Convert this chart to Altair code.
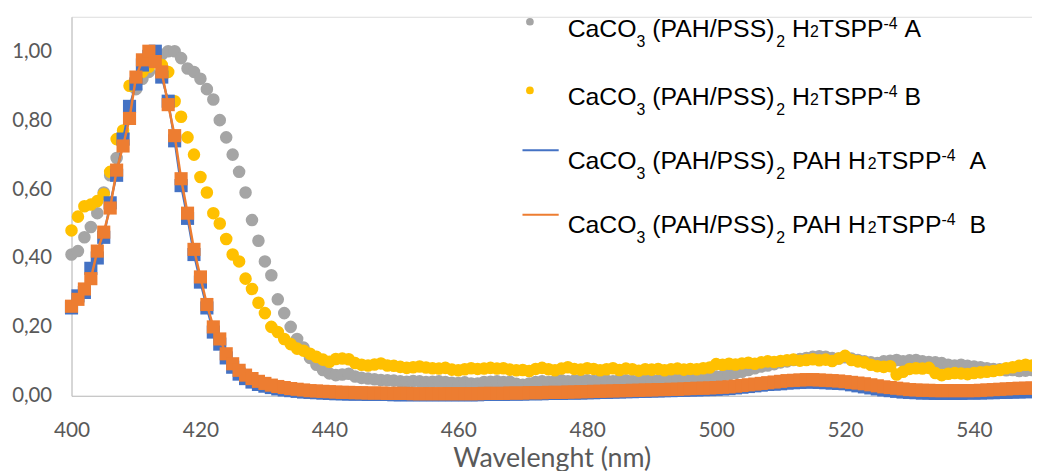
import altair as alt
import pandas as pd

# ---------------- data ----------------
wavelength = list(range(400, 550))

# CaCO3 (PAH/PSS)2 H2TSPP-4 A  (grey circles)
series_grey_A = [
    0.41, 0.42, 0.46, 0.49, 0.53, 0.59, 0.64, 0.69, 0.76, 0.83,
    0.89, 0.92, 0.94, 0.97, 0.99, 1.00, 1.00, 0.98, 0.95, 0.94,
    0.92, 0.89, 0.86, 0.80, 0.75, 0.70, 0.65, 0.59, 0.51, 0.45,
    0.39, 0.35, 0.28, 0.24, 0.20, 0.165, 0.14, 0.11, 0.09, 0.075,
    0.065, 0.06, 0.062, 0.064, 0.056, 0.052, 0.05, 0.048, 0.046, 0.045,
    0.044, 0.042, 0.041, 0.043, 0.042, 0.04, 0.041, 0.042, 0.04, 0.038,
    0.037, 0.039, 0.036, 0.036, 0.04, 0.041, 0.042, 0.04, 0.041, 0.035,
    0.032, 0.036, 0.04, 0.042, 0.04, 0.043, 0.045, 0.042, 0.044, 0.046,
    0.045, 0.043, 0.046, 0.044, 0.042, 0.046, 0.045, 0.043, 0.044, 0.047,
    0.045, 0.044, 0.046, 0.045, 0.048, 0.047, 0.05, 0.052, 0.05, 0.053,
    0.056, 0.058, 0.062, 0.066, 0.07, 0.075, 0.08, 0.085, 0.088, 0.092,
    0.097, 0.10, 0.104, 0.107, 0.11, 0.113, 0.115, 0.113, 0.11, 0.108,
    0.112, 0.108, 0.104, 0.10, 0.097, 0.095, 0.10, 0.102, 0.104, 0.10,
    0.103, 0.104, 0.10, 0.098, 0.097, 0.095, 0.09, 0.088, 0.09, 0.087,
    0.085, 0.083, 0.08, 0.078, 0.077, 0.074, 0.075, 0.072, 0.073, 0.075,
]

# CaCO3 (PAH/PSS)2 H2TSPP-4 B  (yellow circles)
series_yellow_B = [
    0.48, 0.52, 0.55, 0.555, 0.565, 0.585, 0.65, 0.745, 0.77, 0.90,
    0.92, 0.94, 0.955, 0.97, 0.96, 0.94, 0.855, 0.81, 0.75, 0.70,
    0.635, 0.59, 0.53, 0.50, 0.455, 0.41, 0.39, 0.34, 0.31, 0.27,
    0.24, 0.20, 0.185, 0.165, 0.15, 0.137, 0.131, 0.122, 0.113, 0.105,
    0.099, 0.107, 0.108, 0.106, 0.095, 0.09, 0.088, 0.091, 0.094, 0.088,
    0.087, 0.084, 0.081, 0.083, 0.085, 0.082, 0.08, 0.079, 0.081, 0.076,
    0.074, 0.077, 0.08, 0.078, 0.079, 0.081, 0.079, 0.08, 0.076, 0.074,
    0.075, 0.072, 0.078, 0.081, 0.077, 0.074, 0.079, 0.083, 0.078, 0.076,
    0.08, 0.078, 0.074, 0.077, 0.08, 0.075, 0.079, 0.077, 0.073, 0.077,
    0.076, 0.078, 0.074, 0.077, 0.079, 0.076, 0.078, 0.077, 0.08, 0.082,
    0.092, 0.09, 0.093, 0.091, 0.094, 0.096, 0.093, 0.097, 0.10, 0.098,
    0.101, 0.103, 0.105, 0.102, 0.104, 0.106, 0.103, 0.105, 0.101, 0.108,
    0.116, 0.104, 0.10, 0.097, 0.09, 0.086, 0.084, 0.086, 0.062, 0.07,
    0.078, 0.08, 0.079, 0.081, 0.066, 0.06, 0.064, 0.066, 0.065, 0.063,
    0.066, 0.068, 0.07, 0.072, 0.075, 0.08, 0.083, 0.087, 0.09, 0.088,
]

# CaCO3 (PAH/PSS)2 PAH H2TSPP-4 A  (blue line, squares)
series_blue_A = [
    0.255, 0.29, 0.30, 0.37, 0.40, 0.46, 0.56, 0.64, 0.745, 0.84,
    0.905, 0.96, 0.985, 1.00, 0.925, 0.855, 0.74, 0.61, 0.515, 0.41,
    0.33, 0.255, 0.185, 0.15, 0.11, 0.083, 0.063, 0.05, 0.04, 0.033,
    0.028, 0.024, 0.02, 0.017, 0.015, 0.013, 0.011, 0.01, 0.009, 0.008,
    0.007, 0.006, 0.006, 0.005, 0.005, 0.005, 0.004, 0.004, 0.004, 0.004,
    0.003, 0.003, 0.003, 0.003, 0.003, 0.003, 0.003, 0.003, 0.003, 0.003,
    0.003, 0.003, 0.003, 0.003, 0.004, 0.004, 0.004, 0.004, 0.005, 0.005,
    0.005, 0.006, 0.006, 0.006, 0.007, 0.007, 0.007, 0.008, 0.008, 0.008,
    0.009, 0.009, 0.010, 0.010, 0.011, 0.011, 0.012, 0.012, 0.013, 0.013,
    0.014, 0.014, 0.015, 0.015, 0.016, 0.016, 0.017, 0.017, 0.018, 0.018,
    0.019, 0.020, 0.021, 0.023, 0.025, 0.027, 0.029, 0.031, 0.033, 0.034,
    0.035, 0.037, 0.038, 0.039, 0.040, 0.040, 0.039, 0.038, 0.037, 0.036,
    0.035, 0.032, 0.029, 0.026, 0.023, 0.02, 0.017, 0.015, 0.013, 0.011,
    0.010, 0.009, 0.008, 0.008, 0.007, 0.007, 0.007, 0.007, 0.007, 0.008,
    0.008, 0.008, 0.009, 0.009, 0.01, 0.01, 0.011, 0.011, 0.012, 0.012,
]

# CaCO3 (PAH/PSS)2 PAH H2TSPP-4 B  (orange line, squares)
series_orange_B = [
    0.26, 0.28, 0.31, 0.34, 0.42, 0.475, 0.545, 0.655, 0.725, 0.805,
    0.925, 0.975, 1.00, 0.97, 0.94, 0.845, 0.755, 0.63, 0.53, 0.425,
    0.345, 0.265, 0.20, 0.165, 0.122, 0.093, 0.074, 0.06, 0.05, 0.042,
    0.036, 0.031, 0.027, 0.024, 0.021, 0.019, 0.017, 0.015, 0.014, 0.013,
    0.012, 0.011, 0.010, 0.010, 0.009, 0.009, 0.008, 0.008, 0.008, 0.007,
    0.007, 0.007, 0.007, 0.006, 0.006, 0.006, 0.006, 0.006, 0.006, 0.006,
    0.006, 0.006, 0.006, 0.006, 0.007, 0.007, 0.007, 0.007, 0.008, 0.008,
    0.008, 0.009, 0.009, 0.009, 0.010, 0.010, 0.010, 0.011, 0.011, 0.012,
    0.012, 0.013, 0.013, 0.014, 0.014, 0.015, 0.015, 0.016, 0.016, 0.017,
    0.017, 0.018, 0.018, 0.019, 0.019, 0.020, 0.021, 0.022, 0.022, 0.023,
    0.024, 0.025, 0.026, 0.028, 0.030, 0.032, 0.034, 0.036, 0.038, 0.040,
    0.042, 0.044, 0.045, 0.046, 0.047, 0.047, 0.046, 0.045, 0.044, 0.043,
    0.041, 0.039, 0.037, 0.035, 0.032, 0.029, 0.026, 0.024, 0.022, 0.020,
    0.018, 0.017, 0.016, 0.016, 0.015, 0.015, 0.015, 0.015, 0.015, 0.015,
    0.015, 0.016, 0.017, 0.018, 0.019, 0.020, 0.021, 0.022, 0.022, 0.023,
]

y_ticks = [0.0, 0.2, 0.4, 0.6, 0.8, 1.0]
x_ticks = [400, 420, 440, 460, 480, 500, 520, 540]
x_title = "Wavelenght (nm)"

legend_rows = [
    [("CaCO", "n"), ("3", "sub"), (" (PAH/PSS)", "n"), ("2", "sub"), (" H", "n"),
     ("2", "small"), ("TSPP", "n"), ("-4", "sup"), (" A", "n")],
    [("CaCO", "n"), ("3", "sub"), (" (PAH/PSS)", "n"), ("2", "sub"), (" H", "n"),
     ("2", "small"), ("TSPP", "n"), ("-4", "sup"), (" B", "n")],
    [("CaCO", "n"), ("3", "sub"), (" (PAH/PSS)", "n"), ("2", "sub"), (" PAH H", "n"),
     ("2", "small"), ("TSPP", "n"), ("-4", "sup"), ("  A", "n")],
    [("CaCO", "n"), ("3", "sub"), (" (PAH/PSS)", "n"), ("2", "sub"), (" PAH H", "n"),
     ("2", "small"), ("TSPP", "n"), ("-4", "sup"), ("  B", "n")],
]

# ---------------- styles / layout ----------------
GREY = "#A5A5A5"
YELLOW = "#FFC000"
BLUE = "#4472C4"
ORANGE = "#ED7D31"
AXIS_TXT = "#595959"
W, H = 968, 382
X0, Y0 = 68, 16.5  # reference-page offset used for the legend placement

df = pd.DataFrame({
    "wl": wavelength,
    "greyA": series_grey_A,
    "yellowB": series_yellow_B,
    "blueA": series_blue_A,
    "orangeB": series_orange_B,
})

x_enc = alt.X(
    "wl:Q",
    scale=alt.Scale(domain=[400, 549], nice=False, zero=False),
    axis=alt.Axis(values=x_ticks, title=x_title, grid=False, ticks=False,
                  domainColor="#BFBFBF", domainWidth=1, format="d",
                  labelFlush=False, labelOverlap=False,
                  labelFont="Lato", labelFontSize=21, labelColor=AXIS_TXT,
                  labelPadding=24, titleFont="Lato", titleFontSize=27,
                  titleFontWeight="normal", titleColor=AXIS_TXT, titlePadding=5),
)

y_scale = alt.Scale(domain=[0, 1.1], nice=False, zero=True)
y_axis = alt.Axis(values=y_ticks, title=None, grid=False, ticks=False,
                  domainColor="#BFBFBF", domainWidth=1,
                  labelFlush=False, labelOverlap=False,
                  labelExpr="replace(format(datum.value, '.2f'), '.', ',')",
                  labelFont="Lato", labelFontSize=20.5, labelColor=AXIS_TXT,
                  labelPadding=20)


def yenc(field):
    return alt.Y(f"{field}:Q", scale=y_scale, axis=y_axis)


base = alt.Chart(df)
grey = base.mark_circle(size=160, color=GREY, opacity=1).encode(x=x_enc, y=yenc("greyA"))
yellow = base.mark_circle(size=160, color=YELLOW, opacity=1).encode(x=x_enc, y=yenc("yellowB"))
blue_line = base.mark_line(color=BLUE, strokeWidth=2.25).encode(x=x_enc, y=yenc("blueA"))
blue_pts = base.mark_point(shape="square", filled=True, size=175, color=BLUE, opacity=1).encode(
    x=x_enc, y=yenc("blueA"))
orange_line = base.mark_line(color=ORANGE, strokeWidth=2.5).encode(x=x_enc, y=yenc("orangeB"))
orange_pts = base.mark_point(shape="square", filled=True, size=175, color=ORANGE, opacity=1).encode(
    x=x_enc, y=yenc("orangeB"))

data_layer = alt.layer(grey, yellow, blue_line, blue_pts, orange_line, orange_pts)

# ---------------- manual legend (text with sub/superscripts) ----------------
ARIAL = {" ": 278, "(": 333, ")": 333, "/": 278, "-": 333, "A": 667, "B": 667,
         "C": 722, "H": 722, "O": 778, "P": 667, "S": 667, "T": 611, "a": 556}
for d in "0123456789":
    ARIAL[d] = 556

MAIN_FS, SMALL_FS = 25, 16
SHIFT = {"n": 0, "small": 0, "sub": 10, "sup": -8}
row_baselines = [36.5, 105, 169.5, 234]
text_start = 568

seg_txt, seg_x, seg_y, seg_fs = [], [], [], []
for row, base_y in zip(legend_rows, row_baselines):
    cx = text_start
    for txt, kind in row:
        fs = MAIN_FS if kind == "n" else SMALL_FS
        lead = len(txt) - len(txt.lstrip(" "))
        seg_txt.append(txt.lstrip(" "))
        seg_x.append(cx + lead * ARIAL[" "] * fs / 1000 - X0)
        seg_y.append(base_y + SHIFT[kind] - Y0)
        seg_fs.append(fs)
        cx += sum(ARIAL[c] for c in txt) * fs / 1000

legend_df = pd.DataFrame({"t": seg_txt, "lx": seg_x, "ly": seg_y, "fs": seg_fs})
legend_text = alt.Chart(legend_df).mark_text(
    align="left", baseline="alphabetic", font="Liberation Sans", color="black"
).encode(
    x=alt.X("lx:Q", scale=None, axis=None),
    y=alt.Y("ly:Q", scale=None, axis=None),
    size=alt.Size("fs:Q", scale=None, legend=None),
    text="t:N",
)

one = pd.DataFrame({"k": [0]})
sym_grey = alt.Chart(one).mark_circle(size=60, color=GREY, opacity=1).encode(
    x=alt.value(530 - X0), y=alt.value(21.5 - Y0))
sym_yellow = alt.Chart(one).mark_circle(size=60, color=YELLOW, opacity=1).encode(
    x=alt.value(530 - X0), y=alt.value(90.7 - Y0))
sym_blue = alt.Chart(one).mark_rule(color=BLUE, strokeWidth=2).encode(
    x=alt.value(522.5 - X0), x2=alt.value(559 - X0), y=alt.value(151 - Y0))
sym_orange = alt.Chart(one).mark_rule(color=ORANGE, strokeWidth=2).encode(
    x=alt.value(522.5 - X0), x2=alt.value(559 - X0), y=alt.value(216 - Y0))

legend_layer = alt.layer(legend_text, sym_grey, sym_yellow, sym_blue, sym_orange)

chart = alt.layer(data_layer, legend_layer).resolve_scale(
    x="independent", y="independent", size="independent"
).properties(
    width=W, height=H,
    autosize=alt.AutoSizeParams(type="none"),
    padding={"left": 64, "top": 7, "right": 0, "bottom": 82},
).configure_view(stroke=None).configure(background="white")

chart.save("out.html", embed_options={"renderer": "svg", "actions": False})
